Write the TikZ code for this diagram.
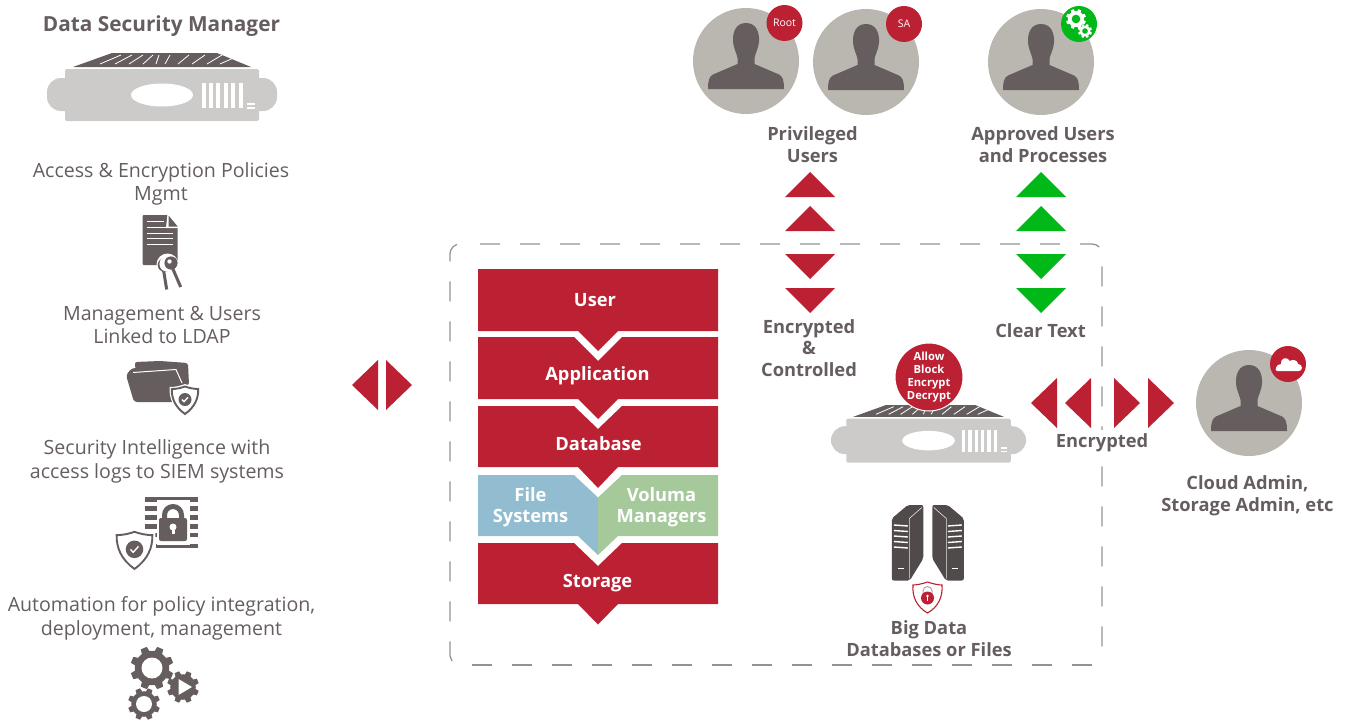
\documentclass[tikz,border=0pt]{standalone}
\usepackage{fontspec}
\setmainfont{Open Sans}
\definecolor{dk}{HTML}{655D5E}
\definecolor{rd}{HTML}{BB2033}
\definecolor{gn}{HTML}{00B918}
\definecolor{cg}{HTML}{BAB7B0}
\definecolor{ap}{HTML}{CCCBC9}
\definecolor{bl}{HTML}{92BCD0}
\definecolor{vg}{HTML}{A5C99A}
\tikzset{
  x=1pt,y=-1pt,
  reg/.style={inner sep=0,outer sep=0,text=dk,align=center,font=\fontsize{19.6}{23.7}\selectfont},
  bld/.style={inner sep=0,outer sep=0,text=dk,align=center,font=\fontsize{18.3}{21.5}\selectfont\bfseries},
  wht/.style={inner sep=0,outer sep=0,text=white,align=center,font=\fontsize{18.3}{21.5}\selectfont\bfseries},
  badge/.style={circle,minimum size=36,inner sep=0,text=white,font=\fontsize{10.5}{12}\selectfont},
  redf/.style={fill=rd,draw=none},
  grnf/.style={fill=gn,draw=none},
  frame/.style={draw=gray!85,line width=1.3pt,dash pattern=on 20pt off 20pt},
}
% person at circle centre
\newcommand{\personicon}[2]{%
\begin{scope}[shift={(#1,#2)}]
\fill[cg] (0,0) circle[radius=53];
\fill[dk] (0,-38) .. controls (-10,-38) and (-13.5,-29) .. (-13,-20)
  .. controls (-12.5,-12) and (-9,-7) .. (-8.5,-3) -- (-8.5,3) -- (-33,13.5)
  .. controls (-37,15.5) and (-38,20) .. (-38,28) -- (38,28)
  .. controls (38,20) and (37,15.5) .. (33,13.5) -- (8.5,3) -- (8.5,-3)
  .. controls (9,-7) and (12.5,-12) .. (13,-20)
  .. controls (13.5,-29) and (10,-38) .. (0,-38) -- cycle;
\end{scope}}
% appliance: origin = top centre of trapezoid
\newcommand{\appliance}[3]{%
\begin{scope}[shift={(#1,#2)},x=#3pt,y=-#3pt]
\fill[dk] (-89,14) -- (-50,0) -- (55,0) -- (89,14) -- cycle;
\foreach \a/\b in {-62/-41,-47/-30,-33/-19,-19/-9,-6/-3,3/8,16/27,30/43,45/60,58/78}{
  \draw[white,line width=.8pt] (\a,11) -- (\b,2);}
\fill[ap,rounded corners=2] (-97,16) rectangle (97,68);
\fill[ap,rounded corners=14] (-115,25) rectangle (115,58);
\fill[white] (0,42) ellipse[x radius=31,y radius=11.5];
\foreach \i in {0,...,5}{\fill[white] (39.5+7.45*\i,29.5) rectangle ++(4,25.5);}
\fill[white] (85,50) rectangle ++(8,1.6);
\fill[white] (85,54) rectangle ++(8,1.6);
\end{scope}}
% gear
\newcommand{\gearicon}[5]{%
\begin{scope}[shift={(#1,#2)}]
\fill[dk] (0,0) circle[radius=#3*0.8];
\foreach \t in {0,45,...,315}{
  \fill[#5,rotate=22.5+\t] (#3*0.7,-#3*0.2) -- (#3,-#3*0.15) -- (#3,#3*0.15) -- (#3*0.7,#3*0.2) -- cycle;}
\fill[white] (0,0) circle[radius=#4];
\end{scope}}
% shield
\newcommand{\shieldicon}[3]{%
\begin{scope}[shift={(#1,#2)},x=#3pt,y=-#3pt]
\fill[white] (0,-16) .. controls (5,-14) and (10,-13) .. (15.5,-13) .. controls (16,-2) and (12,9) .. (0,17) .. controls (-12,9) and (-16,-2) .. (-15.5,-13) .. controls (-10,-13) and (-5,-14) .. (0,-16) -- cycle;
\draw[dk,line width=1.9pt] (0,-13.5) .. controls (4,-12) and (9,-11) .. (13.2,-11) .. controls (13.5,-2) and (10,7) .. (0,14) .. controls (-10,7) and (-13.5,-2) .. (-13.2,-11) .. controls (-9,-11) and (-4,-12) .. (0,-13.5) -- cycle;
\fill[dk] (0,-0.5) circle[radius=6.5];
\draw[white,line width=1.4pt] (-3,-0.5) -- (-1,1.7) -- (3,-2.7);
\end{scope}}
\newcommand{\towericon}{%
\fill[dk!80!black,rounded corners=2] (-36,0) -- (-20,-13.5) -- (-4.5,-13.5) -- (-4.5,40) -- (-18,62) -- (-36,62) -- cycle;
\draw[white!85!dk,line width=.6pt] (-6,-11) -- (-18.5,0) -- (-18.5,60);
\foreach \v in {6.5,12,17.5,23,28.5}{\draw[white,line width=1.4pt] (-34,\v) -- (-20,\v+1);}
\draw[white,line width=1.4pt] (-30,50) -- (-24,50);
}
\begin{document}
\begin{tikzpicture}
\useasboundingbox (0,0) rectangle (1349,720);
% LEFT COLUMN
\node[bld,font=\fontsize{20.8}{24}\selectfont\bfseries] (dsm) at (161.5,26.5) {Data Security Manager};
\appliance{162}{53}{1}
\node[reg] (t1) at (161,184) {Access \& Encryption Policies\\Mgmt};
% document with keys
\fill[dk,rounded corners=1] (142.7,215) -- (167.5,215) -- (177.7,227) -- (177.7,265) -- (142.7,265) -- cycle;
\fill[white] (167.5,214) -- (179,214) -- (179,228) -- (166,228) -- cycle;
\fill[dk] (168.5,215.5) -- (177.7,226.5) -- (168.5,226.5) -- cycle;
\foreach \yy/\xx in {221.7/164,227/168,233/173,238.5/173,244.5/173}{\draw[white,line width=1pt] (147,\yy) -- (\xx,\yy);}
\fill[white] (167.5,264.5) circle[radius=11];
\fill[dk] (164.5,265) circle[radius=6.8];
\draw[dk,line width=3pt] (163.5,270) -- (166.7,289.5);
\fill[white] (167,264) circle[radius=7.6];
\draw[dk,line width=3pt] (172.5,268) -- (180.7,287);
\fill[dk] (171,263) circle[radius=6.6];
\fill[white] (169.5,261.5) circle[radius=2.2];
\node[reg] (t2) at (162,325) {Management \& Users\\Linked to LDAP};
% folder
\fill[dk,rounded corners=2] (135,367) -- (135,362) -- (160,361) -- (188,363) -- (189,385) -- (140,385) -- cycle;
\fill[dk,rounded corners=3] (126,375) -- (132,368) -- (175,368) -- (182,378) -- (182,402) -- (134,402) -- cycle;
\draw[white,line width=1pt] (133,372.5) -- (176,369.5) -- (182,383);
\shieldicon{185}{400}{1}
\node[reg] (t3) at (157,461.5) {Security Intelligence with\\access logs to SIEM systems};
% lock icon
\fill[dk] (145,497) rectangle (198,502);
\foreach \v in {506,515,524}{\fill[dk] (145,\v) rectangle (158,\v+4.5); \fill[dk] (188,\v) rectangle (198,\v+4.5);}
\fill[dk] (152,533) rectangle (158,537);
\fill[dk] (188,533) rectangle (198,537);
\fill[dk] (156,543.5) rectangle (198,548);
\draw[white,line width=2pt] (158,501) rectangle (189,544);
\fill[white] (158.5,503) rectangle (187.5,543);
\draw[dk,line width=5pt] (164.5,520) -- (164.5,515) arc[start angle=180,end angle=360,radius=8.5] -- (181.5,520);
\fill[dk,rounded corners=2] (159,518) rectangle (187,541);
\fill[white] (173,527) circle[radius=3.5];
\fill[white] (171.5,527) rectangle (174.5,534);
\shieldicon{134.5}{550}{1.35}
\node[reg] (t4) at (161.5,618) {Automation for policy integration,\\deployment, management};
\gearicon{152}{668}{21.5}{10.5}{dk}
\gearicon{144}{704}{16}{8}{dk}
\gearicon{183}{687}{16}{0}{dk}
\fill[white] (178.5,679) -- (178.5,695) -- (192,687) -- cycle;
% LEFT DOUBLE ARROW
\fill[redf] (378,360) -- (378,410) -- (352,385) -- cycle;
\fill[redf] (386,360) -- (386,410) -- (412,385) -- cycle;
% DASHED FRAME
\path[frame] (480,244) -- (1092,244) arc[start angle=270,end angle=360,radius=10] -- (1102,655);
\path[frame] (1092,665) -- (462,665);
\path[frame] (452,661) -- (450,656) -- (450,254) arc[start angle=180,end angle=270,radius=10];
% STACK
\fill[redf] (478,269) -- (718,269) -- (718,331) -- (618,331) -- (598,351) -- (578,331) -- (478,331) -- cycle;
\fill[redf] (478,337) -- (574,337) -- (598,361) -- (622,337) -- (718,337) -- (718,399) -- (618,399) -- (598,419) -- (578,399) -- (478,399) -- cycle;
\fill[redf] (478,406) -- (574,406) -- (598,429) -- (622,406) -- (718,406) -- (718,467) -- (618,467) -- (598,488) -- (578,467) -- (478,467) -- cycle;
\fill[bl] (478,475) -- (574,475) -- (598,497.5) -- (598,555) -- (578,536) -- (478,536) -- cycle;
\fill[vg] (718,475) -- (622,475) -- (598,497.5) -- (598,555) -- (618,536) -- (718,536) -- cycle;
\fill[redf] (478,543) -- (574,543) -- (598,566) -- (622,543) -- (718,543) -- (718,604) -- (618,604) -- (598,624.5) -- (578,604) -- (478,604) -- cycle;
\node[wht] (user) at (595,300) {User};
\node[wht] (appl) at (597.5,376) {Application};
\node[wht] (db) at (598.5,444) {Database};
\node[wht] (fs) at (530.5,507) {File\\Systems};
\node[wht] (vm) at (661.5,507) {Voluma\\Managers};
\node[wht] (st) at (597.5,583) {Storage};
% PERSONS
\personicon{746}{61}
\personicon{866}{62}
\personicon{1041}{62}
\personicon{1249}{403}
\node[badge,fill=rd] (root) at (784.5,23) {Root};
\node[badge,fill=rd] (sa) at (904,24) {SA};
\node[badge,fill=gn] (ok) at (1079,24) {};
\gearicon{1076}{19}{10}{4.5}{white}
\fill[white] (1076,19) circle[radius=8];
\fill[gn] (1076,19) circle[radius=4.3];
\gearicon{1085}{31}{7}{3}{white}
\fill[white] (1085,31) circle[radius=5.5];
\fill[gn] (1085,31) circle[radius=2.8];
\node[badge,fill=rd] (cl) at (1288,364) {};
\fill[white] (1277,371) -- (1299,371) .. controls (1303,371) and (1303,364) .. (1298,364) .. controls (1298,360) and (1292,359) .. (1290,361) .. controls (1287,356) and (1280,358) .. (1281,364) .. controls (1276,364) and (1274,371) .. (1277,371) -- cycle;
\node[bld] (pu) at (812.5,144.5) {Privileged\\Users};
\node[bld] (au) at (1043,144.5) {Approved Users\\and Processes};
% VERTICAL ARROWS
\foreach \cx/\st in {810/redf,1041/grnf}{
  \fill[\st] (\cx-25,197) -- (\cx+25,197) -- (\cx,172) -- cycle;
  \fill[\st] (\cx-25,231) -- (\cx+25,231) -- (\cx,206) -- cycle;
  \fill[\st] (\cx-25,254) -- (\cx+25,254) -- (\cx,279) -- cycle;
  \fill[\st] (\cx-25,288) -- (\cx+25,288) -- (\cx,313) -- cycle;
}
\node[bld] (enc) at (809,348) {Encrypted\\\&\\Controlled};
\node[bld] (ct) at (1040.5,331) {Clear Text};
% APPLIANCE WITH POLICY BADGE
\appliance{928.5}{405}{0.848}
\node[circle,fill=rd,draw=white,line width=1pt,minimum size=68,inner sep=0,text=white,align=center,font=\fontsize{11.2}{13.2}\selectfont\bfseries] (abed) at (929,377) {Allow\\Block\\Encrypt\\Decrypt};
% RIGHT ARROWS
\fill[redf] (1057,378) -- (1057,428) -- (1031,403) -- cycle;
\fill[redf] (1091,378) -- (1091,428) -- (1065,403) -- cycle;
\fill[redf] (1114,378) -- (1114,428) -- (1140,403) -- cycle;
\fill[redf] (1148,378) -- (1148,428) -- (1174,403) -- cycle;
\node[bld,fill=white,inner sep=4pt] (en2) at (1102,443) {Encrypted};
\node[bld] (ca) at (1247.5,495.5) {Cloud Admin,\\Storage Admin, etc};
% SERVERS
\begin{scope}[shift={(927.8,518.5)}]
\towericon
\begin{scope}[xscale=-1]\towericon\end{scope}
\end{scope}
% SECURED SHIELD
\draw[rd,fill=white,line width=1.1pt] (927.5,582) .. controls (933,584) and (939,585) .. (942,585) .. controls (943,597) and (938,607) .. (927.5,613) .. controls (917,607) and (912,597) .. (913,585) .. controls (916,585) and (922,584) .. (927.5,582) -- cycle;
\draw[gray!70,line width=1pt] (923,596) -- (923,591) arc[start angle=180,end angle=360,radius=4.5] -- (932,596);
\fill[rd] (927.5,598) circle[radius=6.5];
\fill[white] (926.9,597) rectangle (928.1,601);
\fill[white] (927.5,596) circle[radius=1.3];
\node[bld] (bd) at (929,638.5) {Big Data\\Databases or Files};
\end{tikzpicture}
\end{document}
